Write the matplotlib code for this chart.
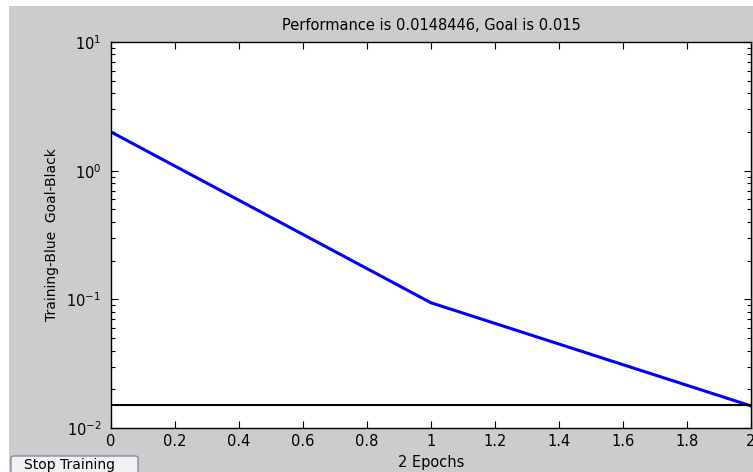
import numpy as np
import matplotlib.pyplot as plt
from matplotlib.patches import Rectangle, FancyBboxPatch
from matplotlib.ticker import LogLocator, FixedLocator

epochs = [0, 1, 2]
training_perf = [2.0, 0.094, 0.0148446]
goal = 0.015
x_ticks = [0, 0.2, 0.4, 0.6, 0.8, 1.0, 1.2, 1.4, 1.6, 1.8, 2.0]
x_ticklabels = ["0", "0.2", "0.4", "0.6", "0.8", "1", "1.2", "1.4", "1.6", "1.8", "2"]

plt.rcParams['font.family'] = ['DejaVu Sans']

fig = plt.figure(figsize=(7.53, 4.72), dpi=100, facecolor='white')
# grey figure window area (behind the axes)
fig.patches.append(Rectangle((9 / 753, 0), 1, (472 - 6) / 472, transform=fig.transFigure,
                             facecolor='#cccccc', edgecolor='none', zorder=-10))

ax = fig.add_axes([111 / 753, 44 / 472, 640 / 753, 386 / 472])
ax.set_facecolor('white')

ax.semilogy(epochs, training_perf, color='#0000ff', lw=2.2)
ax.axhline(goal, color='black', lw=1.5)

ax.set_xlim(0, 2)
ax.set_ylim(1e-2, 1e1)
ax.xaxis.set_major_locator(FixedLocator(x_ticks))
ax.set_xticklabels(x_ticklabels)
ax.yaxis.set_major_locator(LogLocator(base=10, numticks=10))
ax.yaxis.set_minor_locator(LogLocator(base=10, subs=np.arange(2, 10), numticks=10))
ax.yaxis.set_minor_formatter(plt.NullFormatter())

ax.tick_params(which='both', direction='in', top=True, right=True, labelsize=10.5, colors='black')
ax.tick_params(axis='x', which='major', length=5, width=0.8, pad=4)
ax.tick_params(axis='y', which='major', length=5, width=0.8, pad=7)
ax.tick_params(which='minor', length=3, width=0.8)
for s in ax.spines.values():
    s.set_linewidth(1.0)
    s.set_color('black')

ax.set_title("Performance is 0.0148446, Goal is 0.015", fontsize=10.5, y=1 + 17 / 386,
             va='center', pad=0)
ax.set_xlabel("2 Epochs", fontsize=10.5, va='center')
ax.xaxis.set_label_coords(0.5, -34 / 386)
ax.set_ylabel("Training-Blue  Goal-Black", fontsize=10, va='center')
ax.yaxis.set_label_coords(-59 / 640, 0.5)

# Stop Training button
btn = FancyBboxPatch((11 / 753, -6 / 472), 127 / 753, 22 / 472, transform=fig.transFigure,
                     boxstyle='round,pad=0,rounding_size=0.004', facecolor='#f2f2f2',
                     edgecolor='#7a8ea8', lw=1.0, zorder=2)
fig.patches.append(btn)
fig.text(69 / 753, 7 / 472, "Stop Training", fontsize=10, ha='center', va='center', zorder=3)

fig.savefig("out.png", dpi=100, facecolor=fig.get_facecolor())
